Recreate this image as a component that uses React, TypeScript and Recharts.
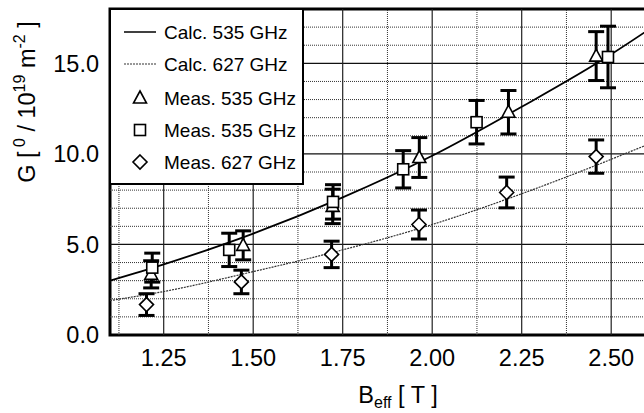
import {
  ComposedChart,
  ErrorBar,
  Legend,
  Line,
  ReferenceArea,
  ReferenceLine,
  Scatter,
  XAxis,
  YAxis,
} from "recharts";

// calculated curves at a few field values
const calc535 = [
  { b: 1.1, g: 3.0 },
  { b: 1.25, g: 3.9 },
  { b: 1.5, g: 5.6 },
  { b: 1.75, g: 7.6 },
  { b: 2.0, g: 9.9 },
  { b: 2.25, g: 12.6 },
  { b: 2.5, g: 15.5 },
  { b: 2.6, g: 16.8 },
];

const calc627 = [
  { b: 1.1, g: 1.9 },
  { b: 1.25, g: 2.4 },
  { b: 1.5, g: 3.5 },
  { b: 1.75, g: 4.7 },
  { b: 2.0, g: 6.1 },
  { b: 2.25, g: 7.8 },
  { b: 2.5, g: 9.7 },
  { b: 2.6, g: 10.5 },
];

// measured points with error (half height of the bar)
const meas535Tri = [
  { b: 1.215, g: 3.35, err: 0.75 },
  { b: 1.472, g: 4.95, err: 0.8 },
  { b: 1.722, g: 7.1, err: 0.95 },
  { b: 1.964, g: 9.8, err: 1.1 },
  { b: 2.213, g: 12.3, err: 1.2 },
  { b: 2.458, g: 15.4, err: 1.35 },
];

const meas535Sq = [
  { b: 1.218, g: 3.72, err: 0.8 },
  { b: 1.433, g: 4.7, err: 0.92 },
  { b: 1.723, g: 7.35, err: 0.95 },
  { b: 1.919, g: 9.15, err: 1.03 },
  { b: 2.124, g: 11.75, err: 1.2 },
  { b: 2.491, g: 15.35, err: 1.7 },
];

const meas627Dia = [
  { b: 1.202, g: 1.68, err: 0.6 },
  { b: 1.467, g: 2.93, err: 0.65 },
  { b: 1.719, g: 4.45, err: 0.73 },
  { b: 1.963, g: 6.1, err: 0.8 },
  { b: 2.208, g: 7.87, err: 0.85 },
  { b: 2.458, g: 9.85, err: 0.92 },
];

const xTicks = [1.25, 1.5, 1.75, 2.0, 2.25, 2.5];
const yTicks = [0, 5, 10, 15];
const xMinor = [1.125, 1.375, 1.625, 1.875, 2.125, 2.375];
const yMinor = [1, 2, 3, 4, 6, 7, 8, 9, 11, 12, 13, 14, 16, 17];

const legendItems = [
  { label: "Calc. 535 GHz", kind: "solid" },
  { label: "Calc. 627 GHz", kind: "dotted" },
  { label: "Meas. 535 GHz", kind: "triangle" },
  { label: "Meas. 535 GHz", kind: "square" },
  { label: "Meas. 627 GHz", kind: "diamond" },
];

const FONT = "'Liberation Sans', Arial, Helvetica, sans-serif";

function Marker({ kind, cx, cy }: { kind: string; cx: number; cy: number }) {
  const common = { fill: "#fff", stroke: "#000", strokeWidth: 1.6 };
  if (kind === "triangle") {
    return <path d={`M${cx},${cy - 7} L${cx + 6.5},${cy + 5} L${cx - 6.5},${cy + 5} Z`} {...common} />;
  }
  if (kind === "square") {
    return <rect x={cx - 5.5} y={cy - 5.5} width={11} height={11} {...common} />;
  }
  return <path d={`M${cx},${cy - 7} L${cx + 7},${cy} L${cx},${cy + 7} L${cx - 7},${cy} Z`} {...common} />;
}

const shapeFor = (kind: string) => (props: any) => <Marker kind={kind} cx={props.cx} cy={props.cy} />;

function LegendBox() {
  return (
    <div
      style={{
        width: 191,
        height: 173,
        border: "2.5px solid #000",
        background: "#fff",
        position: "relative",
      }}
    >
      <svg width={191} height={173} style={{ position: "absolute", left: 0, top: 0 }}>
        {legendItems.map((item, i) => {
          const cy = 22 + i * 32 + (i >= 2 ? 2 : 0);
          let icon;
          if (item.kind === "solid") {
            icon = <line x1={13} x2={45} y1={cy} y2={cy} stroke="#000" strokeWidth={1.5} />;
          } else if (item.kind === "dotted") {
            icon = <line x1={13} x2={45} y1={cy} y2={cy} stroke="#333" strokeWidth={1.2} strokeDasharray="2 1" />;
          } else {
            icon = <Marker kind={item.kind} cx={29} cy={cy} />;
          }
          return (
            <g key={i}>
              {icon}
              <text x={53} y={cy} dy="0.35em" fontFamily={FONT} fontSize={19} fill="#000">
                {item.label}
              </text>
            </g>
          );
        })}
      </svg>
    </div>
  );
}

function YLabel() {
  return (
    <text
      x={35}
      y={102}
      transform="rotate(-90, 35, 102)"
      textAnchor="middle"
      fontFamily={FONT}
      fontSize={23.5}
      fill="#000"
    >
      G [
      <tspan fontSize={16} dy={-10}> 0</tspan>
      <tspan dy={10}> / 10</tspan>
      <tspan fontSize={16} dy={-10}>19</tspan>
      <tspan dy={10}> m</tspan>
      <tspan fontSize={16} dy={-10}>-2</tspan>
      <tspan dy={10}> ]</tspan>
    </text>
  );
}

function XLabel() {
  return (
    <text x={398} y={403} textAnchor="middle" fontFamily={FONT} fontSize={23.5} fill="#000">
      B
      <tspan fontSize={16} dy={5}>eff</tspan>
      <tspan dy={-5}> [ T ]</tspan>
    </text>
  );
}

export default function App() {
  const tickStyle = { fontFamily: FONT, fontSize: 23.5, fill: "#000" };
  return (
    <div
      style={{
        position: "fixed",
        left: 0,
        top: 0,
        width: 644,
        height: 413,
        overflow: "hidden",
        background: "#fff",
      }}
    >
      <ComposedChart width={660} height={413} margin={{ top: 9, right: 13, left: 0, bottom: 0 }}>
        <XAxis
          dataKey="b"
          type="number"
          domain={[1.1, 2.6]}
          ticks={xTicks}
          allowDataOverflow
          tickFormatter={(v: number) => v.toFixed(2)}
          tick={tickStyle}
          tickLine={false}
          tickSize={0}
          tickMargin={14}
          axisLine={false}
          height={78}
          label={<XLabel />}
        />
        <YAxis
          dataKey="g"
          type="number"
          domain={[0, 18]}
          ticks={yTicks}
          allowDataOverflow
          tickFormatter={(v: number) => v.toFixed(1)}
          tick={tickStyle}
          tickLine={false}
          tickSize={0}
          tickMargin={11}
          axisLine={false}
          width={110}
          label={<YLabel />}
        />
        {yMinor.map((v) => (
          <ReferenceLine key={`ym${v}`} y={v} stroke="#333" strokeWidth={1} strokeDasharray="1 1" />
        ))}
        {xMinor.map((v) => (
          <ReferenceLine key={`xm${v}`} x={v} stroke="#333" strokeWidth={1} strokeDasharray="1 1" />
        ))}
        {yTicks.slice(1).map((v) => (
          <ReferenceLine key={`yM${v}`} y={v} stroke="#111" strokeWidth={1.2} />
        ))}
        {xTicks.map((v) => (
          <ReferenceLine key={`xM${v}`} x={v} stroke="#222" strokeWidth={1.2} />
        ))}
        <Line
          data={calc627}
          dataKey="g"
          type="monotone"
          stroke="#333"
          strokeWidth={1.2}
          strokeDasharray="2 1"
          dot={false}
          isAnimationActive={false}
        />
        <Line
          data={calc535}
          dataKey="g"
          type="monotone"
          stroke="#000"
          strokeWidth={1.8}
          dot={false}
          isAnimationActive={false}
        />
        <Scatter data={meas627Dia} dataKey="g" shape={shapeFor("diamond")} isAnimationActive={false}>
          <ErrorBar dataKey="err" direction="y" width={8} stroke="#000" strokeWidth={3} />
        </Scatter>
        <Scatter data={meas535Tri} dataKey="g" shape={shapeFor("triangle")} isAnimationActive={false}>
          <ErrorBar dataKey="err" direction="y" width={8} stroke="#000" strokeWidth={3} />
        </Scatter>
        <Scatter data={meas535Sq} dataKey="g" shape={shapeFor("square")} isAnimationActive={false}>
          <ErrorBar dataKey="err" direction="y" width={8} stroke="#000" strokeWidth={3} />
        </Scatter>
        <ReferenceArea x1={1.1} x2={2.6} y1={0} y2={18} fill="none" stroke="#000" strokeWidth={3} />
        <Legend
          layout="vertical"
          align="center"
          verticalAlign="middle"
          wrapperStyle={{ left: 109, top: 8, width: 196, height: 178 }}
          content={() => <LegendBox />}
        />
      </ComposedChart>
    </div>
  );
}
